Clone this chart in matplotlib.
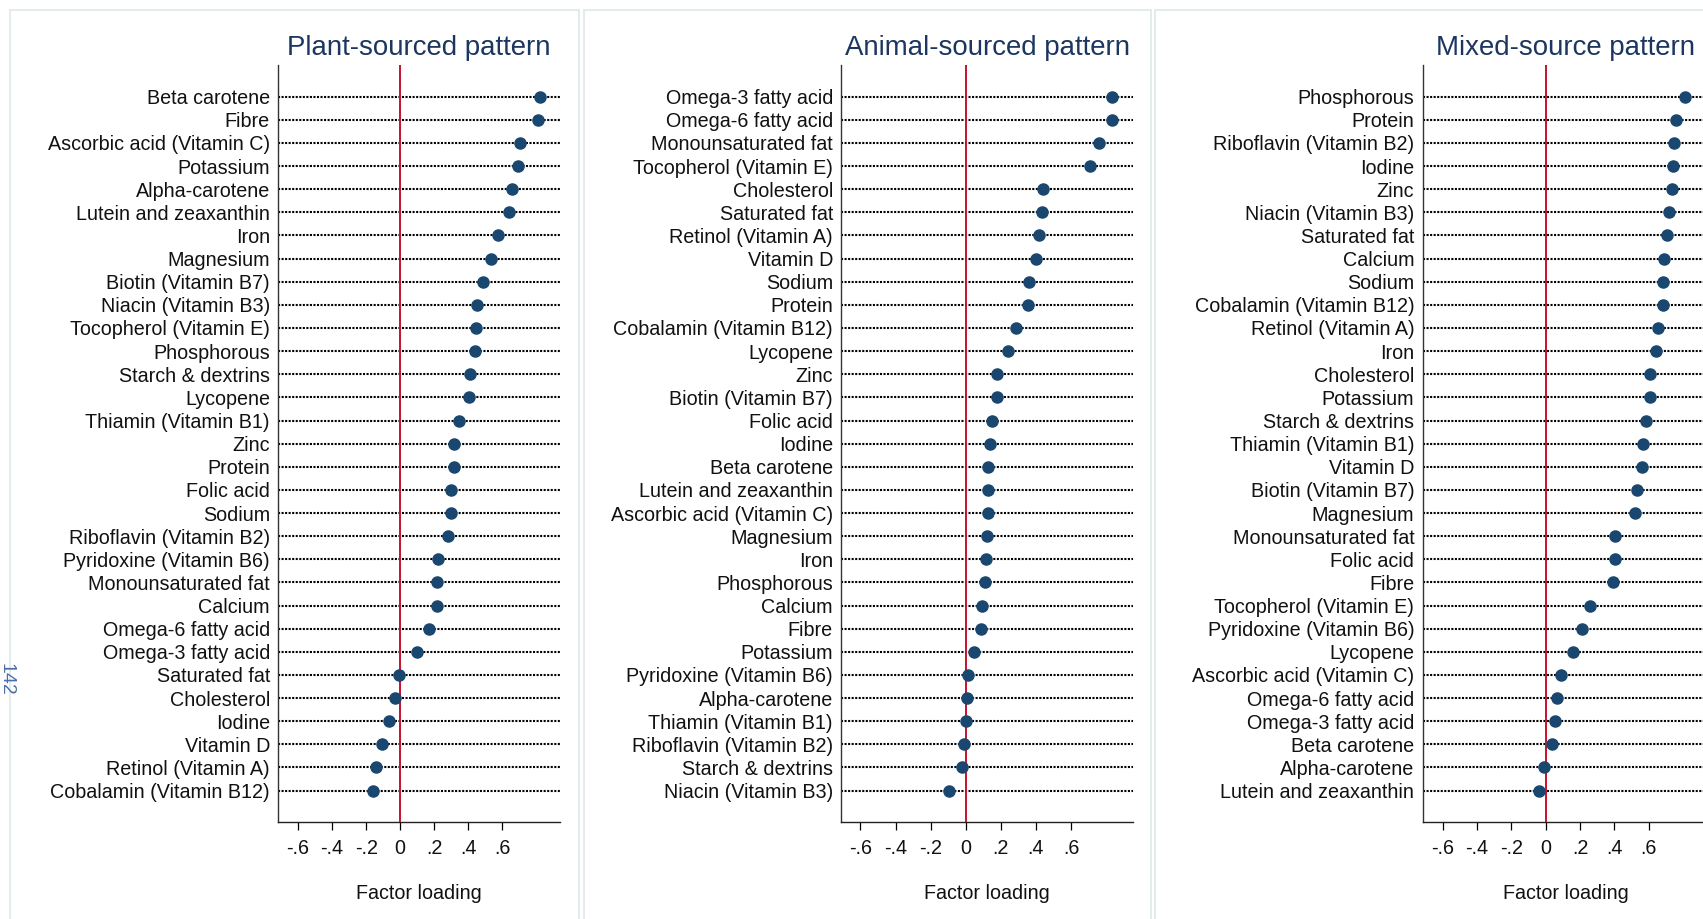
import matplotlib
matplotlib.use('Agg')
import matplotlib.pyplot as plt
from matplotlib.patches import Rectangle

plt.rcParams['font.family'] = ['Liberation Sans', 'DejaVu Sans']

# --- data (factor loadings) ---
plant_nutrients = ["Beta carotene", "Fibre", "Ascorbic acid (Vitamin C)", "Potassium",
                   "Alpha-carotene", "Lutein and zeaxanthin", "Iron", "Magnesium",
                   "Biotin (Vitamin B7)", "Niacin (Vitamin B3)", "Tocopherol (Vitamin E)",
                   "Phosphorous", "Starch & dextrins", "Lycopene", "Thiamin (Vitamin B1)",
                   "Zinc", "Protein", "Folic acid", "Sodium", "Riboflavin (Vitamin B2)",
                   "Pyridoxine (Vitamin B6)", "Monounsaturated fat", "Calcium",
                   "Omega-6 fatty acid", "Omega-3 fatty acid", "Saturated fat",
                   "Cholesterol", "Iodine", "Vitamin D", "Retinol (Vitamin A)",
                   "Cobalamin (Vitamin B12)"]
plant_loadings = [0.822, 0.810, 0.706, 0.690, 0.655, 0.640, 0.572, 0.533, 0.488, 0.452,
                  0.443, 0.441, 0.409, 0.401, 0.345, 0.313, 0.313, 0.300, 0.298, 0.280,
                  0.221, 0.215, 0.215, 0.168, 0.096, -0.010, -0.033, -0.066, -0.106,
                  -0.143, -0.160]

animal_nutrients = ["Omega-3 fatty acid", "Omega-6 fatty acid", "Monounsaturated fat",
                    "Tocopherol (Vitamin E)", "Cholesterol", "Saturated fat",
                    "Retinol (Vitamin A)", "Vitamin D", "Sodium", "Protein",
                    "Cobalamin (Vitamin B12)", "Lycopene", "Zinc", "Biotin (Vitamin B7)",
                    "Folic acid", "Iodine", "Beta carotene", "Lutein and zeaxanthin",
                    "Ascorbic acid (Vitamin C)", "Magnesium", "Iron", "Phosphorous",
                    "Calcium", "Fibre", "Potassium", "Pyridoxine (Vitamin B6)",
                    "Alpha-carotene", "Thiamin (Vitamin B1)", "Riboflavin (Vitamin B2)",
                    "Starch & dextrins", "Niacin (Vitamin B3)"]
animal_loadings = [0.835, 0.835, 0.761, 0.709, 0.441, 0.433, 0.416, 0.403, 0.363, 0.353,
                   0.289, 0.239, 0.179, 0.177, 0.148, 0.139, 0.127, 0.125, 0.125, 0.122,
                   0.114, 0.112, 0.093, 0.086, 0.046, 0.015, 0.008, 0.002, -0.010,
                   -0.023, -0.097]

mixed_nutrients = ["Phosphorous", "Protein", "Riboflavin (Vitamin B2)", "Iodine", "Zinc",
                   "Niacin (Vitamin B3)", "Saturated fat", "Calcium", "Sodium",
                   "Cobalamin (Vitamin B12)", "Retinol (Vitamin A)", "Iron", "Cholesterol",
                   "Potassium", "Starch & dextrins", "Thiamin (Vitamin B1)", "Vitamin D",
                   "Biotin (Vitamin B7)", "Magnesium", "Monounsaturated fat", "Folic acid",
                   "Fibre", "Tocopherol (Vitamin E)", "Pyridoxine (Vitamin B6)", "Lycopene",
                   "Ascorbic acid (Vitamin C)", "Omega-6 fatty acid", "Omega-3 fatty acid",
                   "Beta carotene", "Alpha-carotene", "Lutein and zeaxanthin"]
mixed_loadings = [0.815, 0.760, 0.749, 0.745, 0.739, 0.718, 0.710, 0.690, 0.687, 0.685,
                  0.655, 0.642, 0.609, 0.609, 0.585, 0.568, 0.564, 0.531, 0.523, 0.406,
                  0.405, 0.391, 0.259, 0.214, 0.161, 0.089, 0.066, 0.054, 0.039, -0.008,
                  -0.037]

titles = ["Plant-sourced pattern", "Animal-sourced pattern", "Mixed-source pattern"]
tick_vals = [-0.6, -0.4, -0.2, 0, 0.2, 0.4, 0.6]
tick_labels = ["-.6", "-.4", "-.2", "0", ".2", ".4", ".6"]

W, H = 1703, 919
fig = plt.figure(figsize=(W / 100, H / 100), dpi=100)
fig.patch.set_facecolor('white')

# panel frames (light borders like the combined Stata graph)
border_col = '#dfeaea'
for x0, x1 in [(9.6, 579), (584, 1151), (1155, 1760)]:
    fig.patches.append(Rectangle((x0 / W, -0.1), (x1 - x0) / W, 1.1 - 10.5 / H,
                                 transform=fig.transFigure, fill=False,
                                 edgecolor=border_col, lw=1.3))

# axes placement in pixels: (left, right), xlim
panels = [
    (plant_nutrients, plant_loadings, (278.3, 560.0), (-0.716, 0.938)),
    (animal_nutrients, animal_loadings, (841.3, 1132.9), (-0.709, 0.953)),
    (mixed_nutrients, mixed_loadings, (1422.6, 1708.5), (-0.718, 0.950)),
]
top_px, bot_px = 65.0, 822.3

navy = '#1a476f'
for (names, vals, (lpx, rpx), xlim), title in zip(panels, titles):
    ax = fig.add_axes([lpx / W, 1 - bot_px / H, (rpx - lpx) / W, (bot_px - top_px) / H])
    pos = list(range(len(names)))
    ax.plot(vals, pos, 'o', ms=8, color=navy, zorder=4, clip_on=False)
    ax.axvline(0, color='#c8102e', lw=1.4, zorder=3)
    ax.set_xlim(*xlim)
    ax.set_ylim(len(names) - 1 + 1.37, -1.37)
    ax.set_yticks(pos)
    ax.set_yticklabels(names, fontsize=14.2, color='#111111')
    ax.yaxis.grid(True, linestyle=(0, (1, 0.7)), color='black', lw=1.5)
    ax.tick_params(axis='y', length=0, pad=6)
    ax.set_xticks(tick_vals)
    ax.set_xticklabels(tick_labels, fontsize=14.2, color='#111111')
    ax.tick_params(axis='x', length=6, width=0.9, pad=6, direction='out')
    ax.set_xlabel("Factor loading", fontsize=14.2, labelpad=19, color='#111111')
    for s in ['top', 'right']:
        ax.spines[s].set_visible(False)
    ax.spines['left'].set_color('#333333')
    ax.spines['bottom'].set_color('#222222')
    ax.spines['left'].set_linewidth(1.0)
    ax.spines['bottom'].set_linewidth(1.0)
    ax.set_axisbelow(True)
    fig.text((lpx + rpx) / 2 / W, 1 - 48 / H, title, ha='center', va='center',
             fontsize=19.9, color='#1c3660')

# page number at the left edge
fig.text(6 / W, 1 - 679 / H, "142", rotation=270, ha='center', va='center',
         fontsize=14, color='#4a6fa5')

fig.savefig("out.png", dpi=100)
